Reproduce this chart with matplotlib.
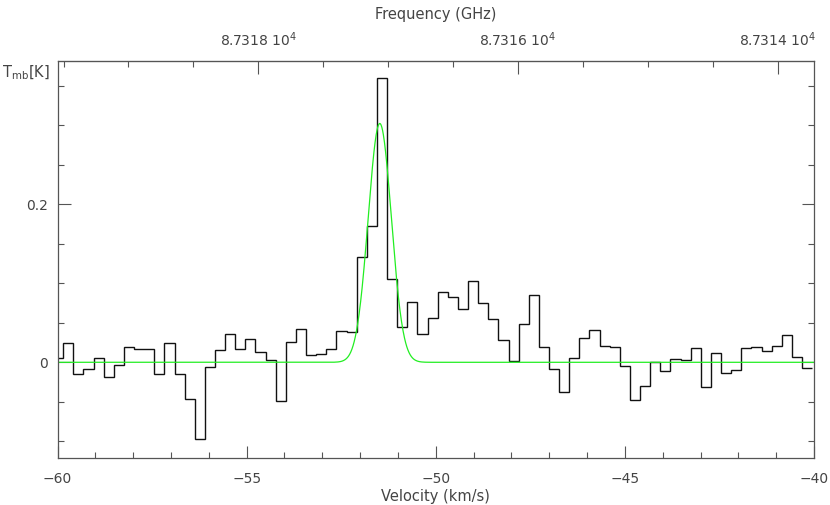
import numpy as np
import matplotlib
matplotlib.use("Agg")
import matplotlib.pyplot as plt
from matplotlib.ticker import MultipleLocator, FixedLocator

# ---- data ----
chan_start = -60.118       # left edge of first channel (km/s)
chan_width = 0.2676        # channel width (km/s)
tmb = [0.005,
       0.025, -0.015, -0.0085, 0.006, -0.0186, -0.004, 0.0197, 0.0172, 0.0172, -0.015,
       0.0248, -0.015, -0.046, -0.097, -0.0055, 0.0155, 0.0354, 0.0164, 0.029, 0.0134,
       0.0025, -0.049, 0.026, 0.0417, 0.0088, 0.011, 0.0164, 0.039, 0.0387, 0.1335,
       0.1727, 0.359, 0.105, 0.045, 0.0759, 0.0358, 0.0564, 0.0885, 0.0828, 0.0674,
       0.1028, 0.075, 0.0551, 0.0282, 0.002, 0.0488, 0.0855, 0.0188, -0.0087, -0.0375,
       0.0054, 0.031, 0.0408, 0.0206, 0.0193, -0.0043, -0.0477, -0.030, 0.0004, -0.0106,
       0.0038, 0.0025, 0.0177, -0.0316, 0.0114, -0.0131, -0.0093, 0.0177, 0.0197, 0.0143,
       0.0202, 0.0341, 0.0063, -0.0068]

# Gaussian fit parameters
fit_amp = 0.302
fit_center = -51.48
fit_fwhm = 0.72

# frequency axis reference
f_ref = 87318.0            # MHz at v_ref
v_ref = -54.69
mhz_per_kms = 87316.0 / 299792.458
freq_ticks = [87318, 87316, 87314]
freq_labels = [r"8.7318 10$^{4}$", r"8.7316 10$^{4}$", r"8.7314 10$^{4}$"]

xlim = (-60, -40)
ylim = (-0.121, 0.381)

# ---- plot ----
plt.rcParams['font.family'] = ['DejaVu Sans']
txtc = '#444444'
fig = plt.figure(figsize=(8.30, 5.05), dpi=100)
ax = fig.add_axes([0.0693, 0.0931, 0.9807 - 0.0693, 0.8792 - 0.0931])

edges = chan_start + chan_width * np.arange(len(tmb) + 1)
ax.stairs(tmb, edges, baseline=None, color='#111111', lw=1.0)

v = np.linspace(xlim[0], xlim[1], 2000)
sig = fit_fwhm / (2 * np.sqrt(2 * np.log(2)))
ax.plot(v, fit_amp * np.exp(-0.5 * ((v - fit_center) / sig) ** 2),
        color='#22ee22', lw=0.9)

ax.set_xlim(*xlim)
ax.set_ylim(*ylim)

for s in ax.spines.values():
    s.set_color('#555555')
    s.set_linewidth(0.9)

ax.xaxis.set_major_locator(MultipleLocator(5))
ax.xaxis.set_minor_locator(MultipleLocator(1))
ax.yaxis.set_major_locator(FixedLocator([0, 0.2]))
ax.yaxis.set_minor_locator(MultipleLocator(0.05))
ax.set_yticklabels(['0', '0.2'])
ax.xaxis.set_major_formatter(matplotlib.ticker.FuncFormatter(
    lambda x, p: f"{x:.0f}".replace('-', '\u2212')))

ax.tick_params(which='both', direction='in', colors='#555555',
               labelcolor=txtc, labelsize=10, top=False, right=True)
ax.tick_params(which='major', length=9, width=0.8)
ax.tick_params(which='minor', length=4.5, width=0.8)
ax.tick_params(axis='x', which='major', pad=10)
ax.tick_params(axis='y', which='major', pad=7)

ax.set_xlabel('Velocity (km/s)', color=txtc, fontsize=10.5, labelpad=2)

def v2f(x):
    return f_ref - (x - v_ref) * mhz_per_kms

def f2v(f):
    return v_ref + (f_ref - f) / mhz_per_kms

sec = ax.secondary_xaxis('top', functions=(v2f, f2v))
sec.set_xticks(freq_ticks)
sec.set_xticklabels(freq_labels)
sec.xaxis.set_minor_locator(MultipleLocator(0.5))
sec.tick_params(which='both', direction='in', colors='#555555',
                labelcolor=txtc, labelsize=10, pad=9)
sec.tick_params(which='major', length=9, width=0.8)
sec.tick_params(which='minor', length=4.5, width=0.8)
sec.spines['top'].set_color('#555555')
sec.set_xlabel('Frequency (GHz)', color=txtc, fontsize=10.5, labelpad=8)

fig.text(2 / 830, 1 - 77 / 505, r"T$_{\rm mb}$[K]", color=txtc, fontsize=10.5,
         ha='left', va='baseline')

fig.savefig('out.png', dpi=100)
